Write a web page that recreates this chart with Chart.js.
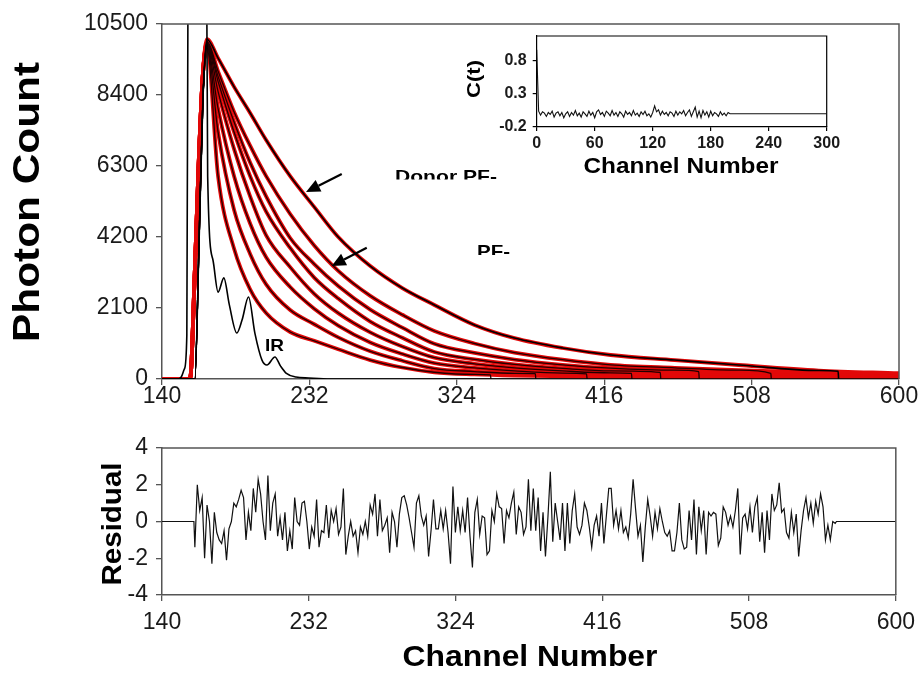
<!DOCTYPE html>
<html>
<head>
<meta charset="utf-8">
<script src="https://cdn.jsdelivr.net/npm/chart.js@4.4.1/dist/chart.umd.min.js"></script>
<style>
  html, body { margin: 0; padding: 0; background: #fff; }
  #wrap { position: relative; width: 923px; height: 673px; overflow: hidden; }
  canvas { position: absolute; }
  #decay { left: 0; top: 0; }
  #resid { left: 0; top: 410px; }
  #inset { left: 440px; top: 20px; }
</style>
</head>
<body>
<div id="wrap">
  <canvas id="decay" width="923" height="410"></canvas>
  <canvas id="resid" width="923" height="263"></canvas>
  <canvas id="inset" width="410" height="170"></canvas>
</div>
<script>
// ── Axis ticks ─────────────────────────────────────────────
const xTicks = [140, 232, 324, 416, 508, 600];
const countTicks = [0, 2100, 4200, 6300, 8400, 10500];
const residualTicks = [-4, -2, 0, 2, 4];
const insetXTicks = [0, 60, 120, 180, 240, 300];
const insetYTicks = [-0.2, 0.3, 0.8];

// ── Decay traces (photon counts) ───────────────────────────
// rising edge, shared by all traces
const riseChannels = [140, 157.5, 160.5, 163, 165.5];
const dataRise = [0, 0, 3200, 6500, 9000];
const fitRise = [0, 0, 0, 3800, 8200];

// decay part, from the peak on
const decayChannels = [168, 175, 185, 195, 205, 220, 235, 250, 270, 290, 310, 335, 360, 390, 420, 460, 500, 550, 600];
const decay1 = [10050, 9490, 8640, 7870, 7070, 6000, 5090, 4200, 3340, 2690, 2190, 1600, 1210, 917, 710, 560, 414, 250, 170]; // donor
const decay2 = [9980, 9100, 7900, 6900, 6000, 4880, 3950, 3200, 2460, 1900, 1420, 1050, 780, 570, 420, 330, 260, 190, 140];
const decay3 = [9950, 8950, 7600, 6400, 5400, 4170, 3400, 2750, 2050, 1520, 1040, 770, 575, 420, 320, 260, 200, 140, 100];
const decay4 = [9920, 8800, 7300, 6000, 4950, 3875, 3000, 2380, 1700, 1220, 800, 580, 430, 315, 240, 180, 130, 90, 65];
const decay5 = [9900, 8500, 6800, 5400, 4250, 3310, 2520, 1950, 1380, 960, 630, 450, 330, 240, 180, 130, 95, 65, 45];
const decay6 = [9870, 8000, 6000, 4600, 3600, 2720, 2080, 1580, 1080, 740, 470, 330, 240, 175, 135, 100, 75, 50, 35];
const decay7 = [9850, 7300, 5000, 3700, 2800, 2040, 1620, 1230, 820, 540, 310, 220, 165, 125, 100, 75, 55, 40, 30];
const decay8 = [9800, 6000, 3850, 2650, 1950, 1390, 1130, 880, 560, 340, 200, 135, 100, 80, 65, 50, 40, 30, 20];

// where each fitted curve stops, and its last value
const fitEndChannels = [562, 520, 475, 451, 433, 405, 373, 345];
const fitEndCounts = [230, 170, 220, 195, 165, 150, 160, 120];

// instrument response
const irChannels = [140, 150, 152, 154, 155.5, 156.5, 158, 166, 167.5, 168.5, 171.8, 175, 178.6, 182, 186.7, 190, 194, 198, 202.4, 205.5, 210.5, 214, 217.4, 223.6, 231.7, 245, 600];
const irCounts = [0, 0, 60, 300, 1300, 16000, 20000, 20000, 16000, 6000, 3520, 2570, 2990, 2200, 1360, 1750, 2425, 1350, 560, 414, 650, 380, 177, 60, 30, 0, 0];

// ── Weighted residuals ─────────────────────────────────────
const residualStart = 160.6;
const residualEnd = 562;
const residuals = [
  -1.4, 2.0, 0.6, 1.3, -2.0, 0.9, 0, -2.3, 0.5, -0.6, -1.0, -1.2, -0.5, -2.1, -0.4, 0.0, 1.0, 0.8, 1.2, 1.7,
  1.3, -1.0, 0.5, -0.5, 1.8, 0.5, 2.3, 1.5, 0.0, -1.0, 2.5, -0.5, 1.0, 1.5, -0.8, 0.2, -1.0, 0.5, -1.6, -0.5,
  -1.5, 1.3, 0.0, -0.2, 1.0, 1.1, 0.0, -1.5, -0.3, -0.8, 1.2, -1.4, -0.5, -0.6, 0.9, -0.9, 0.6, 0.0, 0.7, -0.7,
  -0.3, 1.8, -1.8, -0.8, 0.0, -0.8, -0.5, -1.7, -0.3, -0.7, 0.0, -0.8, 0.9, 0.4, 1.5, -0.8, 1.2, -0.5, -0.2, 0.2,
  -1.7, 0.5, 0.0, -1.4, 0.4, 1.3, 1.4, 0.9, 0.2, -0.6, -1.4, 1.0, 1.4, 0.3, -0.2, 0.3, -1.9, -0.5, 1.2, -0.4,
  -0.4, 0.6, -0.4, 0.6, -0.6, -2.3,
  1.9, -0.6, 0.8, -0.5, 0.6, -0.6, 1.3, -0.8, -2.5, 0.5, 1.2, -0.7, 0.3, 0.2, -1.8, -1.6, 0.6, 0.0, 1.5, 0.8,
  0.7, -1.2, 0.6, 0.2, 1.0, 1.6, -0.7, 0.8, 0.5, -0.7, -0.3, 2.3, -0.5, 1.8, -0.5, 1.3, -1.6, 0.5, -1.9, 0.2,
  2.7, -1.1, 1.0, 0.0, -1.0, 1.0, -1.6, 1.0, -1.2, 0.6, 1.5, -0.3, -0.7, -0.2, 1.0, 0.6, -0.3, -1.4, -0.2, 0.3,
  -0.8, 1.0, -1.2, 0.3, 1.8, 1.8, -0.2, 0.6, -0.4, 0.6, -0.6, -0.3, -0.9, 0.4, 2.3, 0.7, -0.8, -0.2, -2.2, -0.3,
  1.2, 0.3, -0.8, 0.5, -0.4, 0.7, 0.0, -0.6, -0.8, -0.5, -1.6, -1.6, -0.6, 1.0, -1.0, -1.5, -1.4, 0.6, -1.0, 1.2,
  -1.8, 0.8, -0.5, 0.6, -1.8, 0.5, 0.3, 0.5, 0.4, -1.3, -0.9, 0.8, 0.5, -0.2, 0.3, -0.3, 0.6, 1.8, -1.8, 0.2,
  0.4, -0.4, 0.8, -0.6, 0.8, 1.3, -1.1, 0.5, -1.7, 0.6, -1.0, 1.5, 0.6, 0.9, 2.1, 0.5, 0.7, -0.6, -0.9, 0.5,
  -0.6, 0.4, -1.9, -0.5, 0.6, 1.3, 0.2, 1.0, -0.1, 1.1, 0.4, 1.5, 0.8, -1.0, -0.2, -1.0, 0.0, -0.1
];

// ── Autocorrelation of residuals (inset) ───────────────────
const insetZero = 0.97;
const insetStart = 2;
const insetStep = 2;
const insetNoise = [
  0.04, -0.02, 0.03, 0.01, -0.04, 0.02, -0.01, 0.04, -0.05, 0.01, 0.03, -0.03, 0.02, -0.06, 0.00, 0.03, -0.04, 0.02, -0.02, 0.05,
  -0.03, 0.01, -0.05, 0.03, 0.00, -0.04, 0.04, -0.02, 0.02, -0.06, 0.03, 0.06, -0.01, 0.02, -0.04, 0.04, 0.01, -0.03, 0.05, -0.02,
  0.02, -0.04, 0.03, 0.00, -0.05, 0.04, -0.01, 0.02, -0.03, 0.05, -0.02, 0.01, -0.04, 0.03, -0.01, 0.04, -0.03, 0.00, -0.05, 0.02,
  0.12, 0.03, 0.06, -0.02, 0.04, -0.01, 0.02, -0.03, 0.03, 0.01, -0.04, 0.04, -0.02, 0.03, 0.00, 0.05, -0.03, 0.02, 0.06, -0.04,
  0.03, 0.10, -0.05, 0.04, -0.06, 0.05, -0.02, 0.03, -0.05, 0.04, -0.03, 0.02, 0.00, -0.04, 0.03, -0.02, 0.01, -0.03, 0.02, 0.00
];
const insetTail = 0.0;

// ── Helpers ────────────────────────────────────────────────
const FONT = "'Liberation Sans', Arial, sans-serif";
const AXIS = '#555';

function axis(min, max, ticks, o) {
  return {
    type: 'linear', min, max,
    afterBuildTicks: s => { s.ticks = ticks.map(v => ({ value: v })); },
    afterFit: o.fit,
    grid: { drawOnChartArea: false, drawTicks: true, tickLength: o.tick, color: o.color || AXIS, lineWidth: o.lw || 1.3 },
    border: { display: true, color: o.color || AXIS, width: o.lw || 1.5 },
    ticks: {
      font: o.font, color: '#1a1a1a', padding: o.pad, autoSkip: false, maxRotation: 0,
      callback: v => String(v)
    }
  };
}

function fitText(ctx, text, font, cx, cy, width, angle) {
  ctx.save();
  ctx.font = font;
  const w = ctx.measureText(text).width;
  ctx.translate(cx, cy);
  if (angle) ctx.rotate(angle);
  ctx.scale(width / w, 1);
  ctx.textAlign = 'center';
  ctx.textBaseline = 'middle';
  ctx.fillStyle = '#000';
  ctx.fillText(text, 0, 0);
  ctx.restore();
}

function boxFrame(color, lw) {
  return {
    id: 'frame',
    afterDraw(chart) {
      const { ctx, chartArea: a } = chart;
      ctx.save();
      ctx.strokeStyle = color;
      ctx.lineWidth = lw;
      ctx.beginPath();
      ctx.moveTo(a.left, a.top);
      ctx.lineTo(a.right, a.top);
      ctx.lineTo(a.right, a.bottom);
      ctx.stroke();
      ctx.restore();
    }
  };
}

function pts(xs, ys) { return xs.map((x, i) => ({ x, y: ys[i] })); }

function dataPoints(counts) {
  return pts(riseChannels, dataRise).concat(pts(decayChannels, counts));
}

function fitPoints(counts, end, endCount) {
  const p = pts(riseChannels, fitRise);
  decayChannels.forEach((c, i) => { if (c < end) p.push({ x: c, y: counts[i] }); });
  p.push({ x: end, y: endCount }, { x: end + 0.3, y: 0 });
  return p;
}

Chart.defaults.font.family = FONT;

// ── Main decay plot ────────────────────────────────────────
const traces = [decay1, decay2, decay3, decay4, decay5, decay6, decay7, decay8];
const datasets = [];
traces.forEach((t, k) => {
  datasets.push({
    data: dataPoints(t), borderColor: '#e20808', borderWidth: 3.8, order: 3,
    cubicInterpolationMode: 'monotone'
  });
  datasets.push({
    data: fitPoints(t, fitEndChannels[k], fitEndCounts[k]),
    borderColor: k === 0 ? '#000' : '#220000', borderWidth: k === 0 ? 1.6 : 1.3, order: 2,
    cubicInterpolationMode: 'monotone'
  });
});
datasets.push({
  data: pts(irChannels, irCounts), borderColor: '#000', borderWidth: 1.6, order: 1,
  cubicInterpolationMode: 'monotone'
});

// arrows and trace labels, placed in data units
const arrows = [
  { tip: [229.9, 5531], tail: [252.2, 6063] },
  { tip: [245.9, 3342], tail: [267.8, 3884] }
];
const traceLabels = [
  { text: 'Donor PF-', ch: 285.4, count: 6182, width: 102, cut: 9.5 },
  { text: 'PF-', ch: 336.6, count: 3963, width: 33, cut: 10 },
  { text: 'IR', ch: 204.3, count: 1183, width: 19, cut: 12 }
];

const decorations = {
  id: 'decorations',
  afterDatasetsDraw(chart) {
    const { ctx, scales: { x, y } } = chart;
    ctx.save();
    arrows.forEach(a => {
      const tx = x.getPixelForValue(a.tip[0]), ty = y.getPixelForValue(a.tip[1]);
      const sx = x.getPixelForValue(a.tail[0]), sy = y.getPixelForValue(a.tail[1]);
      const ang = Math.atan2(ty - sy, tx - sx);
      const L = 14, W = 6.5;
      const bx = tx - L * Math.cos(ang), by = ty - L * Math.sin(ang);
      ctx.strokeStyle = '#000';
      ctx.lineWidth = 2.2;
      ctx.beginPath();
      ctx.moveTo(sx, sy);
      ctx.lineTo(bx, by);
      ctx.stroke();
      ctx.fillStyle = '#000';
      ctx.beginPath();
      ctx.moveTo(tx, ty);
      ctx.lineTo(bx + W * Math.sin(ang), by - W * Math.cos(ang));
      ctx.lineTo(bx - W * Math.sin(ang), by + W * Math.cos(ang));
      ctx.closePath();
      ctx.fill();
    });
    traceLabels.forEach(l => {
      const lx = x.getPixelForValue(l.ch), ly = y.getPixelForValue(l.count);
      ctx.save();
      ctx.beginPath();
      ctx.rect(lx - 2, ly - 4, l.width + 6, l.cut + 4);
      ctx.clip();
      ctx.font = 'bold 17px ' + FONT;
      const w = ctx.measureText(l.text).width;
      ctx.translate(lx, ly);
      ctx.scale(l.width / w, 1);
      ctx.fillStyle = '#000';
      ctx.textBaseline = 'alphabetic';
      ctx.fillText(l.text, 0, 12.3);
      ctx.restore();
    });
    ctx.restore();
  },
  afterDraw(chart) {
    fitText(chart.ctx, 'Photon Count', 'bold 36px ' + FONT, 29, 202, 280, -Math.PI / 2);
  }
};

new Chart(document.getElementById('decay'), {
  type: 'line',
  data: { datasets },
  options: {
    responsive: false, animation: false,
    layout: { padding: { left: 0, right: 24, top: 24, bottom: 0 } },
    elements: { point: { radius: 0 }, line: { borderJoinStyle: 'round' } },
    plugins: { legend: { display: false }, tooltip: { enabled: false } },
    scales: {
      x: axis(140, 600, xTicks, { tick: 6, pad: -2, font: { size: 23 }, fit: s => { s.height = 31; } }),
      y: axis(0, 10500, countTicks, { tick: 6, pad: 8, font: { size: 23 }, fit: s => { s.width = 162; } })
    }
  },
  plugins: [boxFrame(AXIS, 1.5), decorations]
});

// ── Residual plot ──────────────────────────────────────────
const residualPoints = [{ x: 140, y: 0 }, { x: residualStart - 0.6, y: 0 }].concat(
  residuals.map((r, i) => ({
    x: residualStart + i * (residualEnd - residualStart) / (residuals.length - 1), y: r
  })),
  [{ x: residualEnd + 0.8, y: 0 }, { x: 600, y: 0 }]
);

new Chart(document.getElementById('resid'), {
  type: 'line',
  data: { datasets: [{ data: residualPoints, borderColor: '#111', borderWidth: 1.2, tension: 0 }] },
  options: {
    responsive: false, animation: false,
    layout: { padding: { left: 0, right: 24, top: 38, bottom: 43 } },
    elements: { point: { radius: 0 } },
    plugins: { legend: { display: false }, tooltip: { enabled: false } },
    scales: {
      x: axis(140, 600, xTicks, { tick: 6, pad: 8, font: { size: 23 }, fit: s => { s.height = 35; } }),
      y: axis(-4, 4, residualTicks, { tick: 6, pad: 8, font: { size: 23 }, fit: s => { s.width = 162; } })
    }
  },
  plugins: [boxFrame(AXIS, 1.5), {
    id: 'titles',
    afterDraw(chart) {
      fitText(chart.ctx, 'Residual', 'bold 28px ' + FONT, 113, 114, 123, -Math.PI / 2);
      fitText(chart.ctx, 'Channel Number', 'bold 30px ' + FONT, 530, 248, 255, 0);
    }
  }]
});

// ── Inset: autocorrelation ─────────────────────────────────
const insetPoints = [{ x: 0, y: insetZero }].concat(
  insetNoise.map((v, i) => ({ x: insetStart + i * insetStep, y: v })),
  [{ x: 300, y: insetTail }]
);

new Chart(document.getElementById('inset'), {
  type: 'line',
  data: { datasets: [{ data: insetPoints, borderColor: '#111', borderWidth: 1.1, tension: 0 }] },
  options: {
    responsive: false, animation: false,
    layout: { padding: { left: 0, right: 23.3, top: 16, bottom: 0 } },
    elements: { point: { radius: 0 } },
    plugins: { legend: { display: false }, tooltip: { enabled: false } },
    scales: {
      x: axis(0, 300, insetXTicks, { tick: 4, pad: 3, color: '#000', lw: 1.2, font: { size: 16, weight: 'bold' }, fit: s => { s.height = 63; } }),
      y: axis(-0.2, 1.18, insetYTicks, { tick: 4, pad: 6, color: '#000', lw: 1.2, font: { size: 16, weight: 'bold' }, fit: s => { s.width = 96.7; } })
    }
  },
  plugins: [boxFrame('#000', 1.2), {
    id: 'insetTitles',
    afterDraw(chart) {
      fitText(chart.ctx, 'C(t)', 'bold 19px ' + FONT, 35, 59, 38, -Math.PI / 2);
      fitText(chart.ctx, 'Channel Number', 'bold 22px ' + FONT, 241, 147, 195, 0);
    }
  }]
});
</script>
</body>
</html>
